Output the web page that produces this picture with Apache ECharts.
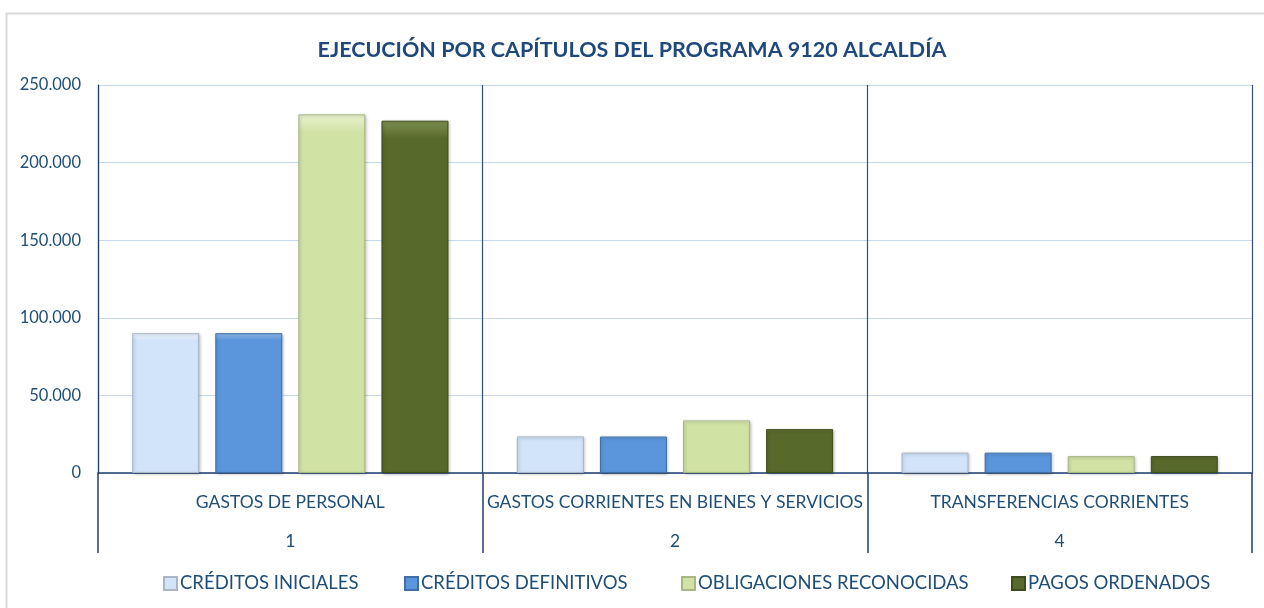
<!DOCTYPE html>
<html>
<head>
<meta charset="utf-8">
<script src="https://cdn.jsdelivr.net/npm/echarts@6/dist/echarts.min.js"></script>
<style>
html,body{margin:0;padding:0;background:#fff;}
#chart{width:1264px;height:608px;}
</style>
</head>
<body>
<div id="chart"></div>
<script>
const title = 'EJECUCIÓN POR CAPÍTULOS DEL PROGRAMA 9120 ALCALDÍA';
const categories = ['GASTOS DE PERSONAL', 'GASTOS CORRIENTES EN BIENES Y SERVICIOS', 'TRANSFERENCIAS CORRIENTES'];
const codes = ['1', '2', '4'];
const seriesNames = ['CRÉDITOS INICIALES', 'CRÉDITOS DEFINITIVOS', 'OBLIGACIONES RECONOCIDAS', 'PAGOS ORDENADOS'];
const creditosIniciales = [90100, 23600, 13100];
const creditosDefinitivos = [90100, 23500, 13100];
const obligacionesReconocidas = [231100, 33900, 10900];
const pagosOrdenados = [227000, 28300, 10900];
const yTicks = { min: 0, max: 250000, interval: 50000 };

const values = [creditosIniciales, creditosDefinitivos, obligacionesReconocidas, pagosOrdenados];
const baseColors = ['#D2E4FA', '#5B96DC', '#D1E2A5', '#58692C'];
const lightColors = ['#F2F8FF', '#92BDEF', '#EBF3D0', '#7D9050'];
const borderColors = ['#A9B6C6', '#3F6FA8', '#A8B884', '#3E4C1C'];
const legendLeft = [163, 404, 681, 1011];
const FONT = 'Lato';
const TXT = '#1F4E79';

function fmt(v) {
  return String(v).replace(/\B(?=(\d{3})+(?!\d))/g, '.');
}

const chart = echarts.init(document.getElementById('chart'));
const series = values.map((data, i) => ({
  name: seriesNames[i],
  type: 'bar',
  data: data,
  barWidth: 67,
  barGap: '24%',
  itemStyle: {
    color: new echarts.graphic.LinearGradient(0, 0, 0, 1, [
      { offset: 0, color: lightColors[i] },
      { offset: 0.05, color: baseColors[i] },
      { offset: 1, color: baseColors[i] }
    ]),
    borderColor: borderColors[i],
    borderWidth: 1,
    shadowColor: 'rgba(0,0,0,0.25)',
    shadowBlur: 3,
    shadowOffsetX: 1,
    shadowOffsetY: 1
  }
}));

const legends = seriesNames.map((n, i) => ({
  data: [n],
  left: legendLeft[i],
  top: 574,
  icon: 'rect',
  itemWidth: 13,
  itemHeight: 13,
  itemGap: 0,
  textStyle: { fontFamily: FONT, fontSize: 18.5, color: TXT, padding: [0, 0, 0, -2] },
  padding: 0
}));

chart.setOption({
  backgroundColor: '#fff',
  animation: false,
  title: {
    text: title,
    left: 'center',
    top: 34,
    textStyle: { fontFamily: FONT, fontSize: 21.5, fontWeight: 'bold', color: '#1F497D' }
  },
  legend: legends,
  graphic: [{
    type: 'rect',
    shape: { x: 6.5, y: 13.5, width: 1300, height: 700 },
    style: { fill: 'none', stroke: '#D9D9D9', lineWidth: 2 },
    silent: true
  }],
  grid: { left: 98, right: 12, top: 85, bottom: 135 },
  xAxis: {
    type: 'category',
    data: categories,
    axisLine: { show: true, lineStyle: { color: '#1F3F6F', width: 1.5 } },
    axisTick: { show: true, length: 80, lineStyle: { color: '#1F3F6F', width: 1.5 } },
    splitLine: { show: true, lineStyle: { color: '#2F4F80', width: 1.2 } },
    axisLabel: {
      interval: 0,
      margin: 10,
      formatter: function (v, idx) { return '{n|' + v + '}\n{c|' + codes[idx] + '}'; },
      rich: {
        n: { fontFamily: FONT, fontSize: 17.5, color: TXT, lineHeight: 39 },
        c: { fontFamily: FONT, fontSize: 17.5, color: TXT, lineHeight: 39 }
      }
    }
  },
  yAxis: {
    type: 'value',
    min: yTicks.min,
    max: yTicks.max,
    interval: yTicks.interval,
    axisLine: { show: true, lineStyle: { color: '#1F3F6F', width: 1.2 } },
    axisTick: { show: false },
    splitLine: { show: true, lineStyle: { color: '#C6D9F1', width: 1.2 } },
    axisLabel: {
      margin: 17,
      fontFamily: FONT, fontSize: 16.5, color: TXT,
      formatter: fmt
    }
  },
  series: series
});
</script>
</body>
</html>
